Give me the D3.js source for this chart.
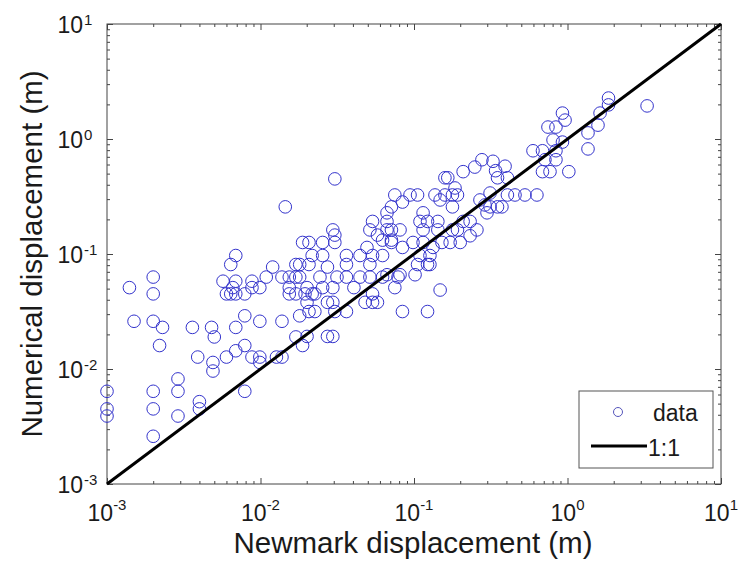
<!DOCTYPE html>
<html>
<head>
<meta charset="utf-8">
<script src="https://cdn.jsdelivr.net/npm/d3@7"></script>
<style>
  body { margin: 0; background: #fff; }
  text { font-family: "Liberation Sans", Arial, sans-serif; fill: #1a1a1a; }
</style>
</head>
<body>
<svg id="chart" width="742" height="571"></svg>
<script>
// Newmark (x) vs numerical (y) displacements
var newmark = [
  0.001, 0.001, 0.001, 0.002, 0.002, 0.002, 0.0029, 0.0029, 0.0029, 0.004,
  0.004, 0.0079, 0.0014, 0.002, 0.002, 0.0015, 0.002, 0.0023, 0.0022, 0.0036,
  0.0048, 0.005, 0.0069, 0.0079, 0.0099, 0.0138, 0.018, 0.017, 0.0188, 0.0039,
  0.0049, 0.0049, 0.006, 0.0069, 0.0079, 0.0088, 0.0099, 0.0099, 0.0127, 0.0138,
  0.0069, 0.0064, 0.012, 0.0109, 0.0138, 0.0154, 0.017, 0.018, 0.0057, 0.0069,
  0.0088, 0.0088, 0.0099, 0.0066, 0.006, 0.0064, 0.0069, 0.0079, 0.0154, 0.0154,
  0.017, 0.0195, 0.0188, 0.018, 0.0201, 0.0305, 0.0145, 0.075, 0.0713, 0.0667,
  0.0667, 0.0537, 0.0516, 0.0578, 0.0624, 0.0713, 0.0296, 0.0305, 0.0305, 0.0207,
  0.0254, 0.017, 0.0217, 0.0254, 0.0207, 0.0273, 0.0363, 0.0363, 0.0445, 0.0494,
  0.0537, 0.0624, 0.0516, 0.0201, 0.0217, 0.0226, 0.0244, 0.0254, 0.0296, 0.0315,
  0.0363, 0.0273, 0.0296, 0.0207, 0.0226, 0.0305, 0.0363, 0.0406, 0.0445, 0.0516,
  0.048, 0.0537, 0.0578, 0.0537, 0.0624, 0.0667, 0.075, 0.0787, 0.0201, 0.0273,
  0.0296, 0.0841, 0.159, 0.166, 0.209, 0.249, 0.277, 0.327, 0.34, 0.35,
  0.392, 0.406, 0.687, 0.769, 0.0841, 0.0942, 0.1055, 0.137, 0.148, 0.159,
  0.178, 0.192, 0.185, 0.178, 0.1146, 0.1094, 0.1225, 0.143, 0.0667, 0.0713,
  0.0811, 0.1146, 0.143, 0.178, 0.192, 0.209, 0.232, 0.257, 0.269, 0.29,
  0.313, 0.35, 0.374, 0.299, 0.313, 0.406, 0.455, 0.528, 0.632, 0.0713,
  0.0841, 0.0985, 0.1146, 0.152, 0.172, 0.2, 0.133, 0.1094, 0.127, 0.232,
  0.1055, 0.1225, 0.127, 0.0811, 0.1016, 0.148, 0.1225, 0.596, 0.687, 0.713,
  0.841, 1.85, 1.85, 3.3, 1.63, 1.58, 1.36, 1.36, 0.927, 0.964,
  0.746, 0.841, 0.805, 0.927, 0.841, 1.02
];
var numerical = [
  0.0064, 0.0045, 0.0039, 0.0064, 0.0045, 0.0026, 0.0082, 0.0064, 0.0039, 0.0052,
  0.0045, 0.0064, 0.051, 0.063, 0.045, 0.026, 0.026, 0.023, 0.016, 0.023,
  0.023, 0.019, 0.023, 0.029, 0.026, 0.026, 0.029, 0.019, 0.016, 0.0127,
  0.0114, 0.0096, 0.0127, 0.0144, 0.016, 0.0127, 0.0127, 0.0114, 0.0127, 0.0127,
  0.097, 0.081, 0.077, 0.063, 0.063, 0.063, 0.063, 0.063, 0.058, 0.058,
  0.058, 0.051, 0.051, 0.051, 0.045, 0.045, 0.045, 0.045, 0.051, 0.045,
  0.045, 0.045, 0.126, 0.081, 0.038, 0.45, 0.257, 0.326, 0.257, 0.228,
  0.192, 0.192, 0.162, 0.146, 0.132, 0.132, 0.162, 0.146, 0.126, 0.126,
  0.126, 0.081, 0.097, 0.097, 0.081, 0.077, 0.097, 0.081, 0.097, 0.114,
  0.097, 0.097, 0.081, 0.051, 0.045, 0.045, 0.063, 0.051, 0.051, 0.063,
  0.063, 0.038, 0.038, 0.0316, 0.0316, 0.0316, 0.0316, 0.051, 0.063, 0.063,
  0.038, 0.038, 0.038, 0.045, 0.063, 0.066, 0.051, 0.063, 0.0192, 0.0192,
  0.0192, 0.0316, 0.46, 0.46, 0.52, 0.57, 0.66, 0.64, 0.53, 0.46,
  0.58, 0.46, 0.52, 0.52, 0.283, 0.326, 0.326, 0.326, 0.295, 0.326,
  0.326, 0.326, 0.375, 0.257, 0.228, 0.192, 0.192, 0.192, 0.162, 0.162,
  0.162, 0.162, 0.162, 0.162, 0.162, 0.192, 0.192, 0.162, 0.295, 0.267,
  0.257, 0.257, 0.257, 0.228, 0.339, 0.326, 0.326, 0.326, 0.326, 0.126,
  0.114, 0.126, 0.126, 0.126, 0.126, 0.126, 0.114, 0.097, 0.097, 0.144,
  0.081, 0.081, 0.081, 0.066, 0.066, 0.0486, 0.0316, 0.79, 0.79, 0.66,
  0.66, 2.27, 1.98, 1.94, 1.68, 1.32, 1.13, 0.82, 1.68, 1.46,
  1.27, 1.27, 0.98, 0.94, 0.79, 0.52
];
var oneToOne = [0.001, 10];
var decades = [1e-3, 1e-2, 1e-1, 1e0, 1e1];
var exponents = ["-3", "-2", "-1", "0", "1"];
var legendLabels = ["data", "1:1"];

var svg = d3.select("#chart");
// note: "top" is taken by window.top, so plot edges get their own names
var pLeft = 107, pRight = 721, pTop = 24, pBottom = 484;

var x = d3.scaleLog().domain([1e-3, 10]).range([pLeft, pRight]);
var y = d3.scaleLog().domain([1e-3, 10]).range([pBottom, pTop]);

// minor ticks 2..9 in every decade
var minors = [];
decades.slice(0, -1).forEach(function (d) {
  for (var k = 2; k < 10; k++) minors.push(d * k);
});

function tickAxis(axis, scale, values, size, tf) {
  var g = svg.append("g").attr("transform", tf)
    .call(axis(scale).tickValues(values).tickSize(size).tickSizeOuter(0).tickFormat(""));
  g.select(".domain").remove();
  g.selectAll("line").attr("stroke", "#444");
}
[[decades, 6], [minors, 3]].forEach(function (t) {
  tickAxis(d3.axisBottom, x, t[0], -t[1], "translate(0," + pBottom + ")");
  tickAxis(d3.axisTop, x, t[0], -t[1], "translate(0," + pTop + ")");
  tickAxis(d3.axisLeft, y, t[0], -t[1], "translate(" + pLeft + ",0)");
  tickAxis(d3.axisRight, y, t[0], -t[1], "translate(" + pRight + ",0)");
});

svg.append("rect")
  .attr("x", pLeft).attr("y", pTop)
  .attr("width", pRight - pLeft).attr("height", pBottom - pTop)
  .attr("fill", "none").attr("stroke", "#444").attr("stroke-width", 1);

// tick labels 10^n
decades.forEach(function (d, i) {
  var t = svg.append("text")
    .attr("x", x(d)).attr("y", pBottom + 37)
    .attr("text-anchor", "middle").style("font-size", "23px");
  t.append("tspan").text("10");
  t.append("tspan").attr("dy", -11).style("font-size", "15px").text(exponents[i]);

  svg.append("text")
    .attr("x", 83).attr("y", y(d) + 9)
    .attr("text-anchor", "end").style("font-size", "23px").text("10");
  svg.append("text")
    .attr("x", 84).attr("y", y(d) + 1)
    .style("font-size", "15px").text(exponents[i]);
});

// axis titles
svg.append("text")
  .attr("x", 413).attr("y", 553)
  .attr("text-anchor", "middle").style("font-size", "29.5px")
  .text("Newmark displacement (m)");
svg.append("text")
  .attr("transform", "translate(42," + ((pTop + pBottom) / 2) + ") rotate(-90)")
  .attr("text-anchor", "middle").style("font-size", "29.5px")
  .text("Numerical displacement (m)");

// data points
svg.append("g").selectAll("circle")
  .data(newmark)
  .enter().append("circle")
  .attr("cx", function (d) { return x(d); })
  .attr("cy", function (d, i) { return y(numerical[i]); })
  .attr("r", 6.3)
  .attr("fill", "none")
  .attr("stroke", "#3333cc")
  .attr("stroke-width", 1);

// 1:1 line
svg.append("path")
  .datum(oneToOne)
  .attr("d", d3.line().x(function (d) { return x(d); }).y(function (d) { return y(d); }))
  .attr("stroke", "#000").attr("stroke-width", 3).attr("fill", "none");

// legend
var lg = svg.append("g");
lg.append("rect")
  .attr("x", 579).attr("y", 391).attr("width", 134).attr("height", 77)
  .attr("fill", "#fff").attr("stroke", "#555");
lg.append("circle")
  .attr("cx", 618).attr("cy", 412).attr("r", 4.5)
  .attr("fill", "none").attr("stroke", "#5555bb");
lg.append("text").attr("x", 653).attr("y", 421)
  .style("font-size", "23px").text(legendLabels[0]);
lg.append("line")
  .attr("x1", 591).attr("x2", 647).attr("y1", 446).attr("y2", 446)
  .attr("stroke", "#000").attr("stroke-width", 3);
lg.append("text").attr("x", 648).attr("y", 456)
  .style("font-size", "23px").text(legendLabels[1]);
</script>
</body>
</html>
